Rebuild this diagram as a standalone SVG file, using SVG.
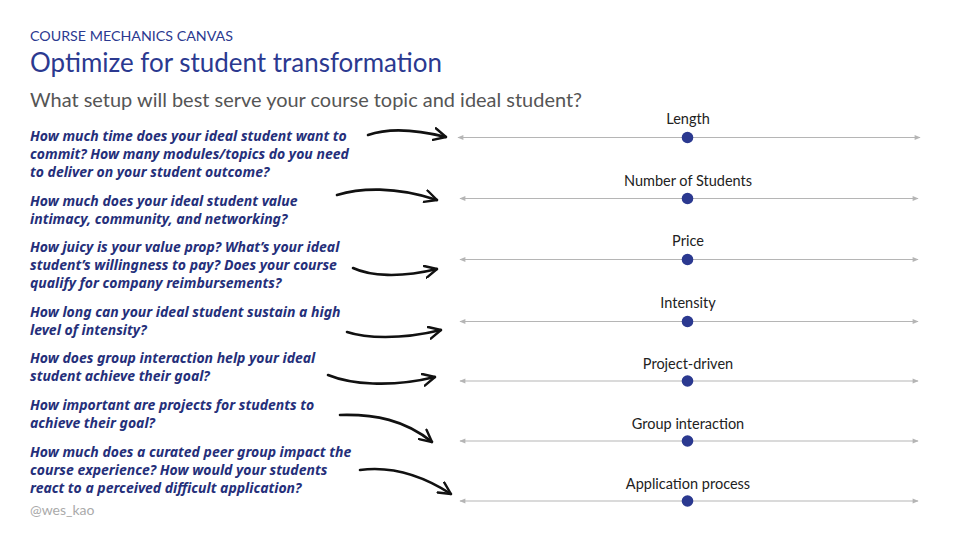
<svg xmlns="http://www.w3.org/2000/svg" width="960" height="540" viewBox="0 0 960 540">
<defs>
<style>
.kicker{font-family:"Lato","Liberation Sans",sans-serif;font-size:14px;fill:#2b3990}
.title{font-family:"Lato","Liberation Sans",sans-serif;font-size:26px;fill:#2b3990}
.sub{font-family:"Lato","Liberation Sans",sans-serif;font-size:19px;fill:#555555}
.q{font-family:"Noto Sans","DejaVu Sans",sans-serif;font-size:14px;font-weight:bold;font-style:italic;fill:#252f7a}
.lbl{font-family:"Lato","Liberation Sans",sans-serif;font-size:14.5px;fill:#222222;text-anchor:middle}
.handle{font-family:"Lato","Liberation Sans",sans-serif;font-size:14px;fill:#aaaaaa}
.axis{stroke:#b5b5b5;stroke-width:1.2;fill:none;marker-start:url(#tri);marker-end:url(#tri)}
.dot{fill:#2b3990}
.hand{stroke:#111111;stroke-width:2.6;fill:none;stroke-linecap:round;marker-end:url(#chev)}
</style>
<marker id="tri" viewBox="0 0 10 10" refX="9" refY="5" markerWidth="8" markerHeight="6" markerUnits="userSpaceOnUse" orient="auto-start-reverse">
<path d="M0,1 L10,5 L0,9 Z" fill="#b5b5b5"/>
</marker>
<marker id="chev" viewBox="0 0 14 14" refX="13" refY="7" markerWidth="14" markerHeight="14" markerUnits="userSpaceOnUse" orient="auto">
<path d="M1,1 L13,7 L1,13" fill="none" stroke="#111111" stroke-width="2.4" stroke-linecap="round" stroke-linejoin="round"/>
</marker>
</defs>
<rect width="960" height="540" fill="#ffffff"/>

<g id="header">
<text class="kicker" x="30" y="41" textLength="203" lengthAdjust="spacingAndGlyphs">COURSE MECHANICS CANVAS</text>
<text class="title" x="30" y="72" textLength="412" lengthAdjust="spacingAndGlyphs">Optimize for student transformation</text>
<text class="sub" x="30" y="107" textLength="552" lengthAdjust="spacingAndGlyphs">What setup will best serve your course topic and ideal student?</text>
</g>

<g id="questions">
<g id="q-length">
<text class="q" x="30" y="141">How much time does your ideal student want to</text>
<text class="q" x="30" y="159">commit? How many modules/topics do you need</text>
<text class="q" x="30" y="177">to deliver on your student outcome?</text>
</g>
<g id="q-students">
<text class="q" x="30" y="206">How much does your ideal student value</text>
<text class="q" x="30" y="224">intimacy, community, and networking?</text>
</g>
<g id="q-price">
<text class="q" x="30" y="252">How juicy is your value prop? What’s your ideal</text>
<text class="q" x="30" y="270">student’s willingness to pay? Does your course</text>
<text class="q" x="30" y="288">qualify for company reimbursements?</text>
</g>
<g id="q-intensity">
<text class="q" x="30" y="317">How long can your ideal student sustain a high</text>
<text class="q" x="30" y="335">level of intensity?</text>
</g>
<g id="q-group">
<text class="q" x="30" y="363">How does group interaction help your ideal</text>
<text class="q" x="30" y="381">student achieve their goal?</text>
</g>
<g id="q-projects">
<text class="q" x="30" y="410">How important are projects for students to</text>
<text class="q" x="30" y="428">achieve their goal?</text>
</g>
<g id="q-application">
<text class="q" x="30" y="457">How much does a curated peer group impact the</text>
<text class="q" x="30" y="475">course experience? How would your students</text>
<text class="q" x="30" y="493">react to a perceived difficult application?</text>
</g>
</g>

<g id="connectors">
<path class="hand" d="M368,135 C385,129 410,128 446,137"/>
<path class="hand" d="M337,195 C360,188 395,186 437,200"/>
<path class="hand" d="M353,268 C370,276 400,278 437,269"/>
<path class="hand" d="M347,332 C365,338 400,340 441,330"/>
<path class="hand" d="M328,375 C350,384 390,388 435,377"/>
<path class="hand" d="M340,415 C375,414 405,420 432,442"/>
<path class="hand" d="M360,470 C390,466 420,474 451,494"/>
</g>

<g id="slider-length">
<text class="lbl" x="688" y="124">Length</text>
<line class="axis" x1="458" y1="137.5" x2="920" y2="137.5"/>
<circle class="dot" cx="687.5" cy="137.5" r="5.8"/>
</g>
<g id="slider-students">
<text class="lbl" x="688" y="186">Number of Students</text>
<line class="axis" x1="460" y1="198.5" x2="918" y2="198.5"/>
<circle class="dot" cx="687.5" cy="198.5" r="5.8"/>
</g>
<g id="slider-price">
<text class="lbl" x="688" y="246">Price</text>
<line class="axis" x1="460" y1="259.5" x2="918" y2="259.5"/>
<circle class="dot" cx="687.5" cy="259.5" r="5.8"/>
</g>
<g id="slider-intensity">
<text class="lbl" x="688" y="308">Intensity</text>
<line class="axis" x1="460" y1="321.5" x2="918" y2="321.5"/>
<circle class="dot" cx="687.5" cy="321.5" r="5.8"/>
</g>
<g id="slider-project">
<text class="lbl" x="688" y="369">Project-driven</text>
<line class="axis" x1="460" y1="381" x2="918" y2="381"/>
<circle class="dot" cx="687.5" cy="381" r="5.8"/>
</g>
<g id="slider-group">
<text class="lbl" x="688" y="429">Group interaction</text>
<line class="axis" x1="460" y1="441" x2="918" y2="441"/>
<circle class="dot" cx="687.5" cy="441" r="5.8"/>
</g>
<g id="slider-application">
<text class="lbl" x="688" y="489">Application process</text>
<line class="axis" x1="460" y1="501" x2="918" y2="501"/>
<circle class="dot" cx="687.5" cy="501" r="5.8"/>
</g>

<g id="footer">
<text class="handle" x="30" y="515">@wes_kao</text>
</g>
</svg>
